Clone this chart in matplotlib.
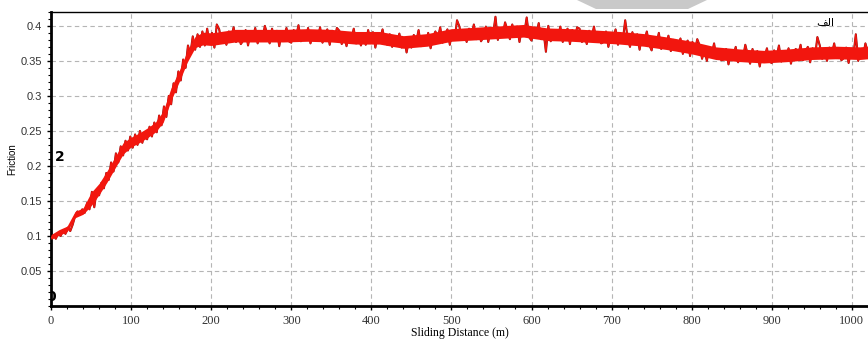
import numpy as np
import matplotlib
matplotlib.use("Agg")
import matplotlib.pyplot as plt
from matplotlib.patches import Polygon
from matplotlib.ticker import MultipleLocator, FormatStrFormatter

# sliding distance samples (m), one every 3 m
distance = np.arange(0, 1021, 3)

# friction, in thousandths
friction_milli = [
    97, 101, 96, 104, 100, 108, 103, 112, 107, 116,
    128, 135, 130, 138, 133, 147, 138, 163, 141, 165,
    158, 176, 168, 190, 180, 205, 192, 218, 205, 228,
    215, 236, 222, 242, 226, 245, 230, 250, 233, 248,
    238, 256, 242, 262, 248, 272, 258, 285, 270, 300,
    288, 318, 305, 335, 322, 352, 340, 372, 360, 385,
    366, 388, 370, 392, 372, 396, 374, 390, 369, 402,
    395, 376, 389, 373, 392, 382, 398, 377, 387, 374,
    379, 394, 372, 390, 383, 397, 375, 391, 381, 400,
    388, 375, 396, 380, 393, 371, 391, 384, 397, 378,
    376, 394, 384, 401, 378, 389, 381, 397, 375, 391,
    392, 382, 398, 376, 387, 395, 373, 393, 381, 397,
    393, 374, 387, 371, 390, 380, 396, 375, 385, 372,
    386, 373, 394, 378, 391, 369, 389, 382, 395, 376,
    373, 388, 370, 384, 377, 389, 369, 383, 362, 380,
    369, 387, 377, 394, 371, 382, 374, 390, 368, 384,
    392, 382, 398, 376, 387, 395, 373, 393, 381, 408,
    399, 380, 393, 377, 396, 386, 402, 381, 391, 378,
    384, 399, 377, 395, 388, 413, 380, 396, 386, 405,
    394, 381, 402, 386, 399, 377, 397, 390, 412, 384,
    379, 397, 387, 404, 381, 392, 363, 400, 378, 394,
    393, 383, 399, 377, 388, 396, 374, 394, 382, 398,
    396, 377, 390, 374, 393, 383, 399, 378, 388, 375,
    377, 392, 370, 388, 381, 395, 373, 389, 379, 408,
    383, 370, 391, 375, 388, 366, 386, 379, 392, 373,
    365, 383, 373, 390, 367, 378, 370, 386, 364, 380,
    376, 366, 382, 360, 371, 379, 357, 377, 365, 381,
    372, 353, 366, 350, 369, 359, 375, 354, 364, 351,
    352, 367, 345, 363, 356, 370, 348, 364, 354, 373,
    359, 346, 367, 351, 364, 342, 362, 355, 368, 349,
    347, 365, 355, 372, 349, 360, 352, 368, 346, 362,
    367, 357, 373, 351, 362, 370, 348, 368, 356, 384,
    372, 353, 366, 350, 369, 359, 375, 354, 364, 351,
    354, 369, 347, 365, 358, 388, 350, 366, 356, 375,
    362,
]
friction = np.array(friction_milli) / 1000.0

# solid core of the noise band (thousandths)
band_x = [0, 10, 20, 30, 40, 50, 60, 70, 80, 90, 100, 110, 120, 130, 140, 150, 160,
          170, 180, 190, 200, 230, 260, 290, 320, 350, 380, 410, 440, 470, 500, 530,
          560, 590, 620, 650, 680, 710, 740, 770, 800, 830, 860, 890, 920, 950, 980,
          1010, 1020]
band_low = [95, 101, 106, 126, 131, 143, 159, 177, 197, 217, 227, 233, 240, 248, 262,
            294, 320, 348, 369, 373, 372, 377, 377, 377, 378, 377, 374, 374, 368, 371,
            378, 380, 382, 384, 379, 378, 376, 374, 371, 366, 360, 352, 349, 347, 349,
            352, 353, 352, 353]
band_high = [102, 109, 114, 135, 140, 162, 175, 193, 213, 233, 241, 247, 254, 262, 278,
             312, 336, 364, 385, 391, 390, 395, 395, 395, 396, 395, 392, 392, 386, 389,
             396, 398, 400, 402, 397, 396, 394, 392, 389, 384, 378, 370, 367, 365, 367,
             370, 371, 370, 371]

x_ticks = [0, 100, 200, 300, 400, 500, 600, 700, 800, 900, 1000]
y_ticks = [0.05, 0.1, 0.15, 0.2, 0.25, 0.3, 0.35, 0.4]

fig = plt.figure(figsize=(8.68, 3.44), dpi=100)
ax = fig.add_axes([0.0588, 0.1105, 0.941, 0.855])

ax.plot(distance, friction, color="#8e1515", lw=1.5, zorder=2)
ax.fill_between(band_x, np.array(band_low) / 1000.0, np.array(band_high) / 1000.0,
                color="#f2160e", lw=0, zorder=3)
ax.plot(distance, friction, color="#f2160e", lw=1.0, zorder=4)

ax.set_xlim(0, 1020)
ax.set_ylim(0, 0.42)
ax.set_xticks(x_ticks)
ax.set_yticks(y_ticks)
ax.xaxis.set_minor_locator(MultipleLocator(20))
ax.yaxis.set_minor_locator(MultipleLocator(0.01))
ax.yaxis.set_major_formatter(FormatStrFormatter("%g"))
ax.tick_params(axis="both", which="major", direction="out", length=3, width=1, colors="black")
ax.tick_params(axis="both", which="minor", direction="out", length=2, width=0.8)
for lab in ax.get_yticklabels():
    lab.set_fontfamily("Liberation Sans")
    lab.set_fontsize(8)
    lab.set_color("#333333")
for lab in ax.get_xticklabels():
    lab.set_fontfamily("Liberation Serif")
    lab.set_fontsize(9)
    lab.set_color("#333333")

ax.grid(True, which="major", color="#b5b5b5", linestyle=(0, (4, 3)), lw=0.8)

ax.spines["left"].set_linewidth(2)
ax.spines["bottom"].set_linewidth(2)
ax.spines["top"].set_linewidth(1)
ax.spines["right"].set_visible(False)

ax.set_ylabel("Friction", fontsize=7, family="Liberation Sans", labelpad=2)
ax.set_xlabel("Sliding Distance (m)", fontsize=8.5, family="Liberation Serif", labelpad=0)

ax.text(5, 0.213, "2", fontsize=10, fontweight="bold", va="center", ha="left")
ax.text(0, 0.013, "0", fontsize=10, fontweight="bold", va="center", ha="center", clip_on=True)
ax.text(967, 0.404, "\ufed2\ufedf\ufe8d", fontsize=8, family="DejaVu Sans", va="center", ha="center")

# grey watermark corner at the top
W, H = 868.0, 344.0
mark = Polygon([(577 / W, 1.0), (707 / W, 1.0), (688 / W, 1 - 9 / H), (596 / W, 1 - 9 / H)],
               closed=True, transform=fig.transFigure, facecolor="#c9c9c9", edgecolor="none")
fig.patches.append(mark)

plt.savefig("out.png", dpi=100)
